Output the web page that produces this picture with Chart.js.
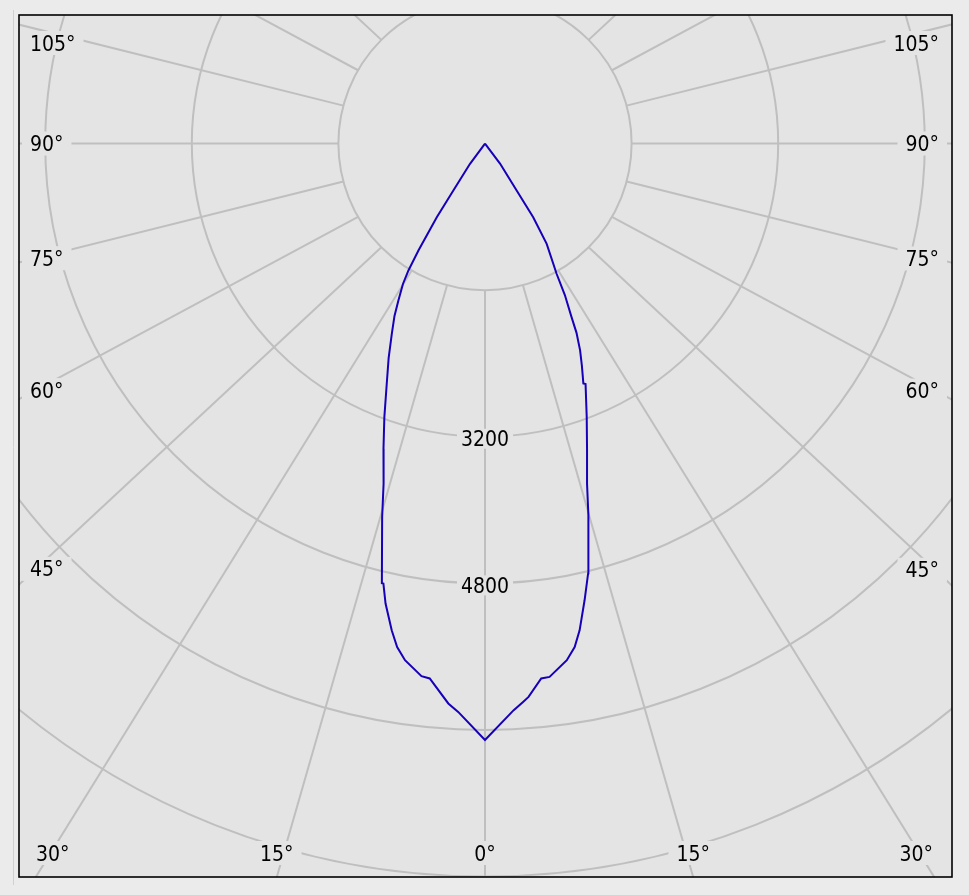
<!DOCTYPE html>
<html lang="en">
<head>
<meta charset="UTF-8">
<title>Luminous intensity distribution</title>
<style>
    html, body {
        margin: 0;
        padding: 0;
        background: #ebebeb;
    }
    canvas {
        display: block;
    }
</style>
</head>
<body>
<canvas id="polarChart" width="969" height="895"></canvas>

<script src="https://cdn.jsdelivr.net/npm/chart.js"></script>
<script>
    // C0 half plane (right side): gamma angle in degrees, intensity in cd
    const gammaC0 = [0, 2.9, 3.9, 4.5, 6.0, 6.9, 9.0, 10.1, 11.0, 12.3, 13.5, 14.3, 15.5, 16.7, 18.5, 20.4, 22.7, 22.3, 23.55, 24.7, 25.8, 26.5, 27.8, 28.8, 31.6, 33.2, 34.0, 36.9, 38];
    const intensityC0 = [6510, 6192, 6108, 6058, 5871, 5864, 5709, 5581, 5412, 5102, 4823, 4582, 4210, 3876, 3510, 3185, 2844, 2829, 2647, 2484, 2295, 2117, 1869, 1622, 1285, 961, 618, 273, 0];

    // C180 half plane (left side)
    const gammaC180 = [0, 2.7, 3.75, 5.9, 6.8, 8.8, 9.9, 10.85, 12.2, 13.0, 13.2, 15.4, 16.6, 18.4, 20.2, 22.25, 24.2, 26.1, 27.7, 28.9, 30.3, 31.1, 31.9, 33.2, 34.0, 36.5, 38];
    const intensityC180 = [6510, 6210, 6124, 5869, 5854, 5706, 5578, 5409, 5136, 4929, 4929, 4227, 3874, 3510, 3181, 2832, 2565, 2312, 2125, 1956, 1775, 1618, 1375, 961, 618, 275, 0];

    // grid: rings (cd), which rings get a label, spoke angles (deg)
    const ringValues = [1600, 3200, 4800, 6400, 8000];
    const ringLabels = [3200, 4800];
    const spokeAngles = [0, 15, 30, 45, 60, 75, 90, 105, 120, 135, 150, 165, 180];

    const FONT_SIZE = 21;
    const FONT = FONT_SIZE + 'px "DejaVu Sans Condensed", "Liberation Sans", sans-serif';
    const GRID_COLOR = '#bfbfbf';
    const PLOT_BG = '#e4e4e4';
    const SPOKE_STRETCH = 1.06;   // the original tool draws its spokes slightly splayed

    const rad = d => d * Math.PI / 180;

    function buildCurve() {
        const pts = [];
        for (let i = gammaC180.length - 1; i >= 0; i--) {
            const g = rad(gammaC180[i]);
            pts.push({ x: -intensityC180[i] * Math.sin(g), y: -intensityC180[i] * Math.cos(g) });
        }
        for (let i = 1; i < gammaC0.length; i++) {
            const g = rad(gammaC0[i]);
            pts.push({ x: intensityC0[i] * Math.sin(g), y: -intensityC0[i] * Math.cos(g) });
        }
        return pts;
    }

    // text with a background patch that hides the grid behind it
    function tag(ctx, text, x, y, align, padX, padY) {
        const w = ctx.measureText(text).width;
        let left = x - w / 2;
        if (align === 'left') left = x;
        if (align === 'right') left = x - w;
        ctx.fillStyle = PLOT_BG;
        ctx.fillRect(left - padX, y - padY, w + 2 * padX, 2 * padY);
        ctx.fillStyle = '#000';
        ctx.textAlign = 'left';
        ctx.textBaseline = 'alphabetic';
        ctx.fillText(text, left, y + FONT_SIZE * 0.36);
    }

    const polarGrid = {
        id: 'polarGrid',
        beforeDraw(chart) {
            const { ctx, chartArea: a } = chart;
            ctx.save();
            ctx.fillStyle = '#ebebeb';
            ctx.fillRect(0, 0, chart.width, chart.height);
            ctx.strokeStyle = '#d0d0d0';
            ctx.lineWidth = 1;
            ctx.beginPath();
            ctx.moveTo(13.5, 10);
            ctx.lineTo(13.5, 885);
            ctx.stroke();
            ctx.fillStyle = PLOT_BG;
            ctx.fillRect(a.left, a.top, a.right - a.left, a.bottom - a.top);
            ctx.restore();
        },
        beforeDatasetsDraw(chart) {
            const { ctx, chartArea: a } = chart;
            const sx = chart.scales.x, sy = chart.scales.y;
            const toPx = (x, y) => ({ x: sx.getPixelForValue(x), y: sy.getPixelForValue(y) });
            const c = toPx(0, 0);

            ctx.save();
            ctx.beginPath();
            ctx.rect(a.left, a.top, a.right - a.left, a.bottom - a.top);
            ctx.clip();

            ctx.strokeStyle = GRID_COLOR;
            ctx.lineWidth = 2;
            ringValues.forEach(v => {
                const r = sx.getPixelForValue(v) - c.x;
                ctx.beginPath();
                ctx.arc(c.x, c.y, r, 0, Math.PI * 2);
                ctx.stroke();
            });

            // spokes from the inner ring outwards
            const inner = ringValues[0];
            const far = 8700;
            const spokes = [];
            spokeAngles.forEach(s => {
                (s === 0 || s === 180 ? [s] : [s, -s]).forEach(t => {
                    const th = rad(t);
                    const p = toPx(inner * Math.sin(th), -inner * Math.cos(th));
                    const q = toPx(SPOKE_STRETCH * far * Math.sin(th), -far * Math.cos(th));
                    let dx = q.x - p.x, dy = q.y - p.y;
                    const len = Math.hypot(dx, dy);
                    dx /= len; dy /= len;
                    spokes.push({ angle: t, p, dx, dy });
                    ctx.beginPath();
                    ctx.moveTo(p.x, p.y);
                    ctx.lineTo(p.x + dx * 2000, p.y + dy * 2000);
                    ctx.stroke();
                });
            });

            ctx.font = FONT;

            // angle labels where the spokes leave the frame
            spokes.forEach(s => {
                const tx = s.dx < -1e-9 ? (a.left - s.p.x) / s.dx : s.dx > 1e-9 ? (a.right - s.p.x) / s.dx : Infinity;
                const ty = s.dy > 1e-9 ? (a.bottom - s.p.y) / s.dy : s.dy < -1e-9 ? (a.top - s.p.y) / s.dy : Infinity;
                const text = Math.abs(s.angle) + '\u00b0';
                if (ty < tx) {
                    if (s.dy < 0) return;   // leaves through the top: no label
                    const w = ctx.measureText(text).width;
                    let x = s.p.x + s.dx * ty;
                    x = Math.max(a.left + 17 + w / 2, Math.min(a.right - 19 - w / 2, x));
                    tag(ctx, text, x, a.bottom - 24, 'center', 8, 12);
                } else {
                    const left = s.dx < 0;
                    const xq = left ? a.left + 17 : a.right - 17;
                    let y = s.p.y + s.dy * (xq - s.p.x) / s.dx;
                    y = Math.max(a.top + 28, y);
                    if (left) tag(ctx, text, a.left + 11, y, 'left', 8, 12);
                    else tag(ctx, text, a.right - 13, y, 'right', 8, 12);
                }
            });

            // intensity labels on the rings below the centre
            ringLabels.forEach(v => {
                const p = toPx(0, -v);
                tag(ctx, String(v), p.x, p.y + 2, 'center', 4, 10);
            });

            ctx.restore();
        },
        afterDraw(chart) {
            const { ctx, chartArea: a } = chart;
            ctx.save();
            ctx.strokeStyle = '#000';
            ctx.lineWidth = 1.6;
            ctx.strokeRect(a.left, a.top, a.right - a.left, a.bottom - a.top);
            ctx.restore();
        }
    };

    const chart = new Chart(document.getElementById('polarChart'), {
        type: 'scatter',
        data: {
            datasets: [{
                label: 'C0 - C180',
                data: buildCurve(),
                showLine: true,
                borderColor: '#1600b8',
                borderWidth: 2,
                pointRadius: 0,
                tension: 0,
                fill: false
            }]
        },
        options: {
            responsive: false,
            animation: false,
            events: [],
            layout: {
                padding: { left: 19, top: 15, right: 17, bottom: 18 }
            },
            scales: {
                x: { type: 'linear', min: -5086, max: 5097, display: false },
                y: { type: 'linear', min: -8005, max: 1403, display: false }
            },
            plugins: {
                legend: { display: false },
                tooltip: { enabled: false }
            }
        },
        plugins: [polarGrid]
    });
</script>
</body>
</html>
